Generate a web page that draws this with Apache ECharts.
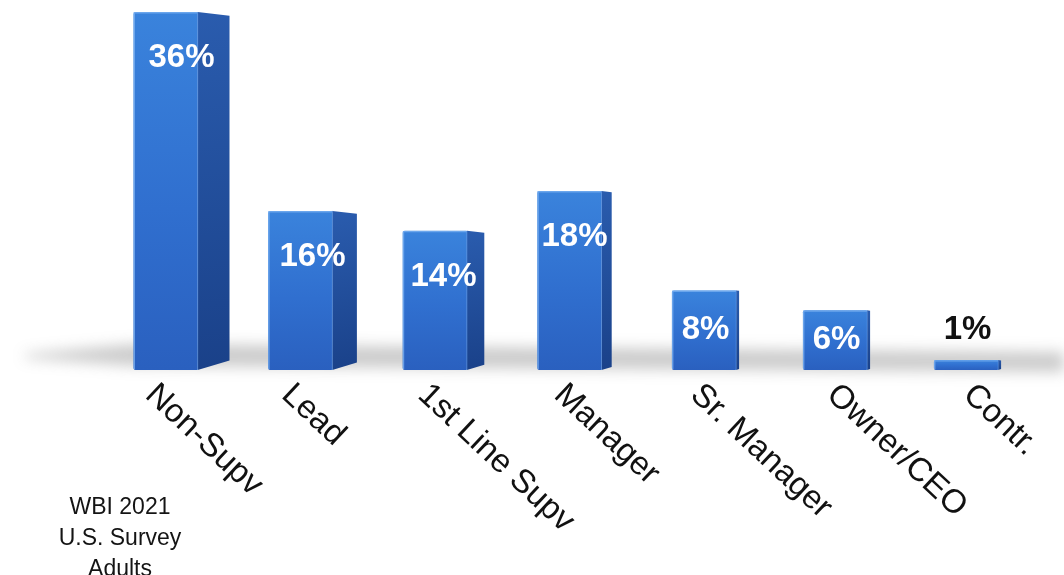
<!DOCTYPE html>
<html>
<head>
<meta charset="utf-8">
<title>WBI 2021 U.S. Survey</title>
<script src="https://cdn.jsdelivr.net/npm/echarts@6/dist/echarts.min.js"></script>
<style>
  html, body { margin: 0; padding: 0; background: #ffffff; }
  #chart { width: 1064px; height: 575px; }
</style>
</head>
<body>
<div id="chart"></div>
<script>
// Share of bullies by organizational rank (percent)
const categories = ['Non-Supv', 'Lead', '1st Line Supv', 'Manager', 'Sr. Manager', 'Owner/CEO', 'Contr.'];
const shares = [36, 16, 14, 18, 8, 6, 1];
const footnote = ['WBI 2021', 'U.S. Survey', 'Adults'];

const FONT = '"Liberation Sans", Arial, Helvetica, sans-serif';

// Draws one bar as a prism: front face, receding side face and a value label.
function renderPrism(params, api) {
  const idx = api.value(0);
  const v = api.value(1);
  const top = api.coord([idx, v]);
  const base = api.coord([idx, 0]);
  const band = api.size([1, 0])[0];
  const cx = top[0];

  // side face narrows as bars approach the vanishing point on the right
  const side = Math.max(3, (760 - cx) * 0.055);
  const fw = band * 0.49;
  const x0 = cx - (fw + side) / 2;
  const x1 = x0 + fw;
  const yt = top[1];
  const yb = base[1];
  const h = yb - yt;

  const children = [];

  // front face
  children.push({
    type: 'rect',
    shape: { x: x0, y: yt, width: fw, height: h, r: [2, 1, 1, 2] },
    style: {
      fill: new echarts.graphic.LinearGradient(0, 0, 0, 1, [
        { offset: 0, color: '#3a83dc' },
        { offset: 0.55, color: '#306fcf' },
        { offset: 1, color: '#2a60bf' }
      ])
    }
  });
  // left edge and top edge highlights
  children.push({
    type: 'polyline',
    shape: { points: [[x0 + 0.8, yb - 1], [x0 + 0.8, yt + 0.8], [x1, yt + 0.8]] },
    style: { stroke: 'rgba(120,175,240,0.8)', lineWidth: 1.4, fill: null }
  });
  // side face
  const dTop = Math.min(side * 0.12, h * 0.3);
  const dBot = Math.min(side * 0.3, h * 0.4);
  children.push({
    type: 'polygon',
    shape: { points: [[x1, yt], [x1 + side, yt + dTop], [x1 + side, yb - dBot], [x1, yb]] },
    style: {
      fill: new echarts.graphic.LinearGradient(0, 0, 1, 1, [
        { offset: 0, color: '#2a5cae' },
        { offset: 1, color: '#1a4189' }
      ])
    }
  });
  // edge between front and side
  children.push({
    type: 'line',
    shape: { x1: x1, y1: yt, x2: x1, y2: yb },
    style: { stroke: 'rgba(90,150,230,0.6)', lineWidth: 1 }
  });

  // value label: inside the bar near the top, or above it for short bars
  const inside = h > 30;
  children.push({
    type: 'text',
    style: {
      text: v + '%',
      x: cx,
      y: inside ? yt + Math.min(46, h / 2) : yt - 30,
      align: 'center',
      verticalAlign: 'middle',
      fill: inside ? '#ffffff' : '#111111',
      font: 'bold 33px ' + FONT
    },
    z2: 10
  });

  return { type: 'group', children: children };
}

const chart = echarts.init(document.getElementById('chart'), null, { renderer: 'canvas' });

chart.setOption({
  backgroundColor: '#ffffff',
  animation: false,
  title: {
    text: footnote.join('\n'),
    left: 115,
    top: 487,
    textAlign: 'center',
    textStyle: {
      fontFamily: FONT,
      fontSize: 23,
      fontWeight: 'normal',
      color: '#141414',
      lineHeight: 31,
      align: 'center'
    }
  },
  grid: [
    { left: 116, right: 31, top: 12, bottom: 205 },
    // companion grid that only carries the slanted category labels
    { left: 82, right: 28, top: 12, bottom: 205 }
  ],
  xAxis: [
    {
      type: 'category',
      gridIndex: 0,
      data: categories,
      axisLine: { show: false },
      axisTick: { show: false },
      axisLabel: { show: false },
      splitLine: { show: false }
    },
    {
      type: 'category',
      gridIndex: 1,
      data: categories,
      axisLine: { show: false },
      axisTick: { show: false },
      splitLine: { show: false },
      axisLabel: {
        rotate: -43,
        margin: 20,
        interval: 0,
        fontFamily: FONT,
        fontSize: 33,
        color: '#111111'
      }
    }
  ],
  yAxis: [
    { type: 'value', gridIndex: 0, min: 0, max: 36, show: false, splitLine: { show: false } },
    { type: 'value', gridIndex: 1, min: 0, max: 36, show: false, splitLine: { show: false } }
  ],
  graphic: [
    {
      // soft floor shadow cast behind the bars (only its blurred shadow lands on screen)
      type: 'polygon',
      z: -10,
      silent: true,
      shape: {
        points: [[25, 354 - 2000], [135, 344 - 2000], [1064, 352 - 2000], [1064, 372 - 2000],
                 [135, 366 - 2000], [25, 358 - 2000]]
      },
      style: {
        fill: '#888888',
        shadowColor: 'rgba(120,120,120,0.38)',
        shadowBlur: 14,
        shadowOffsetY: 2000
      }
    }
  ],
  series: [
    {
      type: 'custom',
      xAxisIndex: 0,
      yAxisIndex: 0,
      renderItem: renderPrism,
      data: shares.map((v, i) => [i, v]),
      encode: { x: 0, y: 1 },
      z: 5
    }
  ]
});
</script>
</body>
</html>
